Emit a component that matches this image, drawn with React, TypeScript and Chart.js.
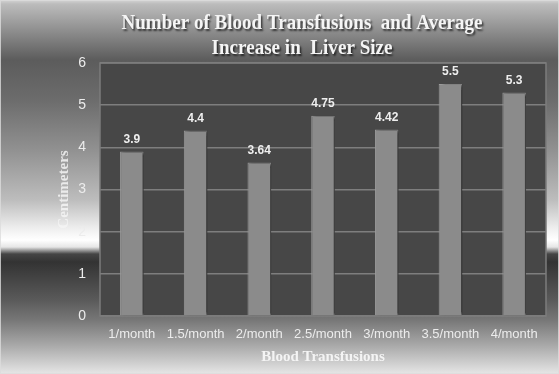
import React, { useEffect, useRef } from "react";
import { Chart, registerables } from "chart.js";

Chart.register(...registerables);

const categories = ["1/month", "1.5/month", "2/month", "2.5/month", "3/month", "3.5/month", "4/month"];
const values = [3.9, 4.4, 3.64, 4.75, 4.42, 5.5, 5.3];
const valueLabels = ["3.9", "4.4", "3.64", "4.75", "4.42", "5.5", "5.3"];
const titleLines = ["Number of Blood Transfusions  and Average", "Increase in  Liver Size"];
const yTitle = "Centimeters";
const xTitle = "Blood Transfusions";

const decorPlugin = {
  id: "decor",
  beforeDraw(chart: any) {
    const { ctx, width, height, chartArea } = chart;
    ctx.save();
    const g = ctx.createLinearGradient(0, 0, 0, height);
    const s = (y: number, c: string) => g.addColorStop(Math.min(1, Math.max(0, y / height)), c);
    s(0, "#d4d4d4");
    s(4, "#bcbcbc");
    s(60, "#5c5c5c");
    s(100, "#6c6c6c");
    s(150, "#919191");
    s(200, "#bdbdbd");
    s(228, "#eeeeee");
    s(240, "#ffffff");
    s(247, "#e6e6e6");
    s(254, "#454545");
    s(262, "#333333");
    s(300, "#5a5a5a");
    s(320, "#777777");
    s(345, "#a8a8a8");
    s(374, "#e6e6e6");
    ctx.fillStyle = g;
    ctx.fillRect(0, 0, width, height);
    ctx.strokeStyle = "rgba(220,220,220,0.8)";
    ctx.lineWidth = 1;
    ctx.strokeRect(0.5, 0.5, width - 1, height - 1);
    ctx.fillStyle = "#474747";
    ctx.fillRect(chartArea.left, chartArea.top, chartArea.right - chartArea.left, chartArea.bottom - chartArea.top);
    // title
    ctx.font = 'bold 21px "Liberation Serif"';
    ctx.textAlign = "center";
    ctx.textBaseline = "alphabetic";
    ctx.shadowColor = "rgba(0,0,0,0.65)";
    ctx.shadowOffsetX = 1.5;
    ctx.shadowOffsetY = 1.5;
    ctx.shadowBlur = 2;
    ctx.fillStyle = "#f5f5f5";
    ctx.fillText(titleLines[0], 302, 29, 361);
    ctx.fillText(titleLines[1], 302, 54, 181);
    ctx.restore();
  },
  beforeDatasetsDraw(chart: any) {
    const { ctx, chartArea } = chart;
    ctx.save();
    ctx.strokeStyle = "#7c7c7c";
    ctx.lineWidth = 1.5;
    ctx.strokeRect(chartArea.left, chartArea.top, chartArea.right - chartArea.left, chartArea.bottom - chartArea.top);
    ctx.restore();
  },
  beforeDatasetDraw(chart: any) {
    const { ctx } = chart;
    ctx.save();
    ctx.shadowColor = "rgba(0,0,0,0.7)";
    ctx.shadowOffsetX = 3;
    ctx.shadowOffsetY = 0;
    ctx.shadowBlur = 3;
  },
  afterDatasetDraw(chart: any) {
    chart.ctx.restore();
  },
  afterDatasetsDraw(chart: any) {
    const { ctx } = chart;
    const meta = chart.getDatasetMeta(0);
    ctx.save();
    ctx.font = 'bold 12px "Liberation Sans"';
    ctx.fillStyle = "#eeeeee";
    ctx.textAlign = "center";
    ctx.textBaseline = "middle";
    meta.data.forEach((bar: any, i: number) => {
      ctx.fillText(valueLabels[i], bar.x, bar.y - 12);
    });
    ctx.restore();
  },
};

export default function App() {
  const ref = useRef<HTMLCanvasElement | null>(null);
  useEffect(() => {
    document.body.style.margin = "0";
    const canvas = ref.current;
    if (!canvas) return;
    const chart = new Chart(canvas, {
      type: "bar",
      data: {
        labels: categories,
        datasets: [
          {
            data: values,
            backgroundColor: "#8b8b8b",
            borderColor: "#9c9c9c",
            borderWidth: 1,
            barPercentage: 0.37,
            categoryPercentage: 1,
          },
        ],
      },
      options: {
        animation: false,
        responsive: false,
        maintainAspectRatio: false,
        layout: { padding: { top: 63, right: 13, bottom: 0, left: 0 } },
        plugins: {
          legend: { display: false },
          title: { display: false },
          tooltip: { enabled: false },
        },
        scales: {
          x: {
            grid: { display: false, drawTicks: false },
            border: { display: false },
            ticks: {
              color: "#ececec",
              font: { family: '"Liberation Sans"', size: 13 },
              padding: 11,
              maxRotation: 0,
              autoSkip: false,
            },
            title: {
              display: true,
              text: xTitle,
              color: "#f4f4f4",
              font: { family: '"Liberation Serif"', size: 15, weight: "bold" },
              padding: { top: 0, bottom: 8 },
            },
            afterFit(scale: any) {
              scale.height = 58;
            },
          },
          y: {
            min: 0,
            max: 6,
            ticks: {
              stepSize: 1,
              color: "#ececec",
              font: { family: '"Liberation Sans"', size: 14 },
              padding: 14,
            },
            grid: { color: "#7e7e7e", lineWidth: 1.5, drawTicks: false },
            border: { display: false },
            title: {
              display: true,
              text: yTitle,
              color: "rgba(245,245,245,0.85)",
              font: { family: '"Liberation Serif"', size: 15, weight: "bold" },
              padding: { top: 55, bottom: 0 },
            },
            afterFit(scale: any) {
              scale.width = 100;
            },
          },
        },
      },
      plugins: [decorPlugin],
    } as any);
    return () => chart.destroy();
  }, []);
  return <canvas ref={ref} width={559} height={374} style={{ display: "block", width: 559, height: 374 }} />;
}
